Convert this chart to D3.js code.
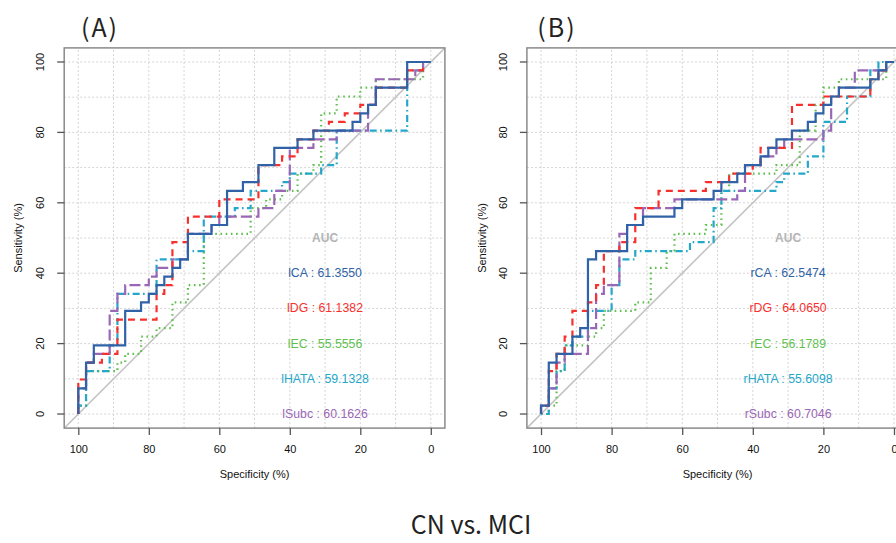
<!DOCTYPE html>
<html>
<head>
<meta charset="utf-8">
<script src="https://cdn.jsdelivr.net/npm/d3@7"></script>
<style>
  html, body { margin: 0; padding: 0; background: #fff; }
  svg { display: block; }
</style>
</head>
<body>
<svg id="chart" width="896" height="543"></svg>
<script>
// ---------------- data ----------------
const panelTitles = ["(A)", "(B)"];
const footerTitle = "CN vs. MCI";
const tickValues = [100, 80, 60, 40, 20, 0];
const gridValues = [0, 10, 20, 30, 40, 50, 60, 70, 80, 90, 100];

const seriesNamesA = ["lCA", "lDG", "lEC", "lHATA", "lSubc"];
const seriesNamesB = ["rCA", "rDG", "rEC", "rHATA", "rSubc"];
const aucA = ["61.3550", "61.1382", "55.5556", "59.1328", "60.1626"];
const aucB = ["62.5474", "64.0650", "56.1789", "55.6098", "60.7046"];

// ROC corner points: [specificity %, sensitivity %]
const A_CA = [[100,0],[100,7.3],[97.8,7.3],[97.8,14.6],[95.6,14.6],[95.6,19.5],[86.7,19.5],[86.7,29.3],[82.2,29.3],[82.2,31.7],[80,31.7],[80,34.1],[77.8,34.1],[77.8,36.6],[75.6,36.6],[75.6,39],[73.3,39],[73.3,41.5],[71.1,41.5],[71.1,43.9],[68.9,43.9],[68.9,51.2],[62.2,51.2],[62.2,53.7],[57.8,53.7],[57.8,63.4],[53.3,63.4],[53.3,65.9],[48.9,65.9],[48.9,70.7],[44.4,70.7],[44.4,75.6],[37.8,75.6],[37.8,78],[33.3,78],[33.3,80.5],[22.2,80.5],[22.2,83],[20,83],[20,85.4],[17.8,85.4],[17.8,87.8],[15.6,87.8],[15.6,92.7],[6.7,92.7],[6.7,100],[0,100]];
const A_DG = [[100,0],[100,9.8],[97.8,9.8],[97.8,14.6],[93.3,14.6],[93.3,17.1],[88.9,17.1],[88.9,26.8],[77.8,26.8],[77.8,34.1],[75.6,34.1],[75.6,36.6],[73.3,36.6],[73.3,48.8],[68.9,48.8],[68.9,56.1],[60,56.1],[60,61],[48.9,61],[48.9,70.7],[42.2,70.7],[42.2,73.2],[37.8,73.2],[37.8,78],[33.3,78],[33.3,80.5],[28.9,80.5],[28.9,83],[24.4,83],[24.4,85.4],[20,85.4],[20,87.8],[15.6,87.8],[15.6,92.7],[6.7,92.7],[6.7,97.6],[2.2,97.6],[2.2,100],[0,100]];
const A_EC = [[100,0],[100,2.4],[97.8,2.4],[97.8,12.2],[88.9,12.2],[88.9,14.6],[86.7,14.6],[86.7,17.1],[82.2,17.1],[82.2,22],[77.8,22],[77.8,24.4],[73.3,24.4],[73.3,31.7],[68.9,31.7],[68.9,36.6],[64.4,36.6],[64.4,51.2],[51.1,51.2],[51.1,58.5],[46.7,58.5],[46.7,61],[42.2,61],[42.2,63.4],[37.8,63.4],[37.8,68.3],[33.3,68.3],[33.3,70.7],[31.1,70.7],[31.1,85.4],[26.7,85.4],[26.7,90.2],[20,90.2],[20,92.7],[15.6,92.7],[15.6,95.1],[2.2,95.1],[2.2,100],[0,100]];
const A_HATA = [[100,0],[100,2.4],[97.8,2.4],[97.8,12.2],[91.1,12.2],[91.1,19.5],[88.9,19.5],[88.9,34.1],[77.8,34.1],[77.8,43.9],[68.9,43.9],[68.9,46.3],[64.4,46.3],[64.4,56.1],[55.6,56.1],[55.6,58.5],[51.1,58.5],[51.1,63.4],[42.2,63.4],[42.2,65.9],[40,65.9],[40,68.3],[31.1,68.3],[31.1,70.7],[26.7,70.7],[26.7,80.5],[6.7,80.5],[6.7,97.6],[2.2,97.6],[2.2,100],[0,100]];
const A_Subc = [[100,0],[100,7.3],[97.8,7.3],[97.8,14.6],[95.6,14.6],[95.6,17.1],[91.1,17.1],[91.1,29.3],[88.9,29.3],[88.9,34.1],[86.7,34.1],[86.7,36.6],[80,36.6],[80,39],[77.8,39],[77.8,41.5],[73.3,41.5],[73.3,43.9],[68.9,43.9],[68.9,51.2],[62.2,51.2],[62.2,53.7],[60,53.7],[60,56.1],[48.9,56.1],[48.9,58.5],[44.4,58.5],[44.4,63.4],[40,63.4],[40,75.6],[33.3,75.6],[33.3,78],[26.7,78],[26.7,80.5],[17.8,80.5],[17.8,87.8],[15.6,87.8],[15.6,95.1],[4.4,95.1],[4.4,97.6],[2.2,97.6],[2.2,100],[0,100]];

const B_CA = [[100,0],[100,2.4],[97.8,2.4],[97.8,14.6],[95.6,14.6],[95.6,17.1],[91.1,17.1],[91.1,22],[88.9,22],[88.9,24.4],[86.7,24.4],[86.7,43.9],[84.4,43.9],[84.4,46.3],[75.6,46.3],[75.6,53.7],[71.1,53.7],[71.1,56.1],[62.2,56.1],[62.2,58.5],[60,58.5],[60,61],[51.1,61],[51.1,63.4],[48.9,63.4],[48.9,65.9],[44.4,65.9],[44.4,68.3],[42.2,68.3],[42.2,70.7],[37.8,70.7],[37.8,73.2],[35.6,73.2],[35.6,75.6],[33.3,75.6],[33.3,78],[28.9,78],[28.9,80.5],[24.4,80.5],[24.4,83],[22.2,83],[22.2,85.4],[20,85.4],[20,87.8],[17.8,87.8],[17.8,90.2],[15.6,90.2],[15.6,92.7],[6.7,92.7],[6.7,95.1],[4.4,95.1],[4.4,97.6],[2.2,97.6],[2.2,100],[0,100]];
const B_DG = [[100,0],[100,2.4],[97.8,2.4],[97.8,12.2],[95.6,12.2],[95.6,17.1],[93.3,17.1],[93.3,22],[91.1,22],[91.1,29.3],[86.7,29.3],[86.7,31.7],[84.4,31.7],[84.4,36.6],[82.2,36.6],[82.2,46.3],[77.8,46.3],[77.8,48.8],[73.3,48.8],[73.3,58.5],[66.7,58.5],[66.7,63.4],[53.3,63.4],[53.3,65.9],[46.7,65.9],[46.7,68.3],[40,68.3],[40,70.7],[37.8,70.7],[37.8,75.6],[28.9,75.6],[28.9,87.8],[20,87.8],[20,90.2],[6.7,90.2],[6.7,95.1],[4.4,95.1],[4.4,97.6],[2.2,97.6],[2.2,100],[0,100]];
const B_EC = [[100,0],[97.8,0],[97.8,2.4],[95.6,2.4],[95.6,12.2],[93.3,12.2],[93.3,19.5],[86.7,19.5],[86.7,22],[84.4,22],[84.4,24.4],[82.2,24.4],[82.2,29.3],[73.3,29.3],[73.3,31.7],[68.9,31.7],[68.9,41.5],[64.4,41.5],[64.4,46.3],[62.2,46.3],[62.2,51.2],[53.3,51.2],[53.3,53.7],[48.9,53.7],[48.9,63.4],[46.7,63.4],[46.7,68.3],[33.3,68.3],[33.3,70.7],[26.7,70.7],[26.7,80.5],[22.2,80.5],[22.2,87.8],[20,87.8],[20,92.7],[15.6,92.7],[15.6,95.1],[2.2,95.1],[2.2,100],[0,100]];
const B_HATA = [[100,0],[97.8,0],[97.8,7.3],[95.6,7.3],[95.6,12.2],[93.3,12.2],[93.3,19.5],[91.1,19.5],[91.1,22],[86.7,22],[86.7,29.3],[80,29.3],[80,36.6],[77.8,36.6],[77.8,43.9],[73.3,43.9],[73.3,46.3],[57.8,46.3],[57.8,48.8],[51.1,48.8],[51.1,58.5],[48.9,58.5],[48.9,63.4],[33.3,63.4],[33.3,65.9],[31.1,65.9],[31.1,68.3],[24.4,68.3],[24.4,73.2],[20,73.2],[20,83],[13.3,83],[13.3,90.2],[6.7,90.2],[6.7,97.6],[4.4,97.6],[4.4,100],[0,100]];
const B_Subc = [[100,0],[100,2.4],[97.8,2.4],[97.8,7.3],[95.6,7.3],[95.6,14.6],[93.3,14.6],[93.3,17.1],[86.7,17.1],[86.7,24.4],[84.4,24.4],[84.4,34.1],[82.2,34.1],[82.2,36.6],[77.8,36.6],[77.8,51.2],[75.6,51.2],[75.6,53.7],[71.1,53.7],[71.1,58.5],[62.2,58.5],[62.2,61],[44.4,61],[44.4,63.4],[42.2,63.4],[42.2,70.7],[37.8,70.7],[37.8,73.2],[33.3,73.2],[33.3,75.6],[31.1,75.6],[31.1,78],[20,78],[20,80.5],[17.8,80.5],[17.8,90.2],[15.6,90.2],[15.6,92.7],[11.1,92.7],[11.1,97.6],[2.2,97.6],[2.2,100],[0,100]];

const curvesA = [A_CA, A_DG, A_EC, A_HATA, A_Subc];
const curvesB = [B_CA, B_DG, B_EC, B_HATA, B_Subc];

// ---------------- styles ----------------
const colors = ["#2f62a6", "#f7302d", "#5fbf4f", "#25a7c9", "#9a67b6"];
const dashes = [null, "7,5", "1.6,3.6", "1.6,3.4,7,3.4", "11,4"];

const svg = d3.select("#chart");
svg.append("rect").attr("width", 896).attr("height", 543).attr("fill", "#fff");

const panels = [
  { title: panelTitles[0], names: seriesNamesA, auc: aucA, curves: curvesA,
    xr: [64.2, 444.9], titleX: 100, ylabX: 18 },
  { title: panelTitles[1], names: seriesNamesB, auc: aucB, curves: curvesB,
    xr: [526.9, 908.1], titleX: 557, ylabX: 482 }
];
const yr = [428.1, 47.9];
const font = "'Liberation Sans', Arial, Helvetica, sans-serif";
const titleFont = "'Noto Sans CJK SC', 'Noto Sans', sans-serif";

panels.forEach((p, pi) => {
  const x = d3.scaleLinear().domain([104, -4]).range(p.xr);
  const y = d3.scaleLinear().domain([-4, 104]).range(yr);
  const g = svg.append("g");
  const clipId = "clip" + pi;
  svg.append("clipPath").attr("id", clipId).append("rect")
    .attr("x", p.xr[0]).attr("y", yr[1])
    .attr("width", p.xr[1] - p.xr[0]).attr("height", yr[0] - yr[1]);

  const inner = g.append("g").attr("clip-path", `url(#${clipId})`);
  // grid
  inner.selectAll(".gv").data(gridValues).enter().append("line")
    .attr("x1", d => x(d)).attr("x2", d => x(d))
    .attr("y1", yr[0]).attr("y2", yr[1])
    .attr("stroke", "#d4d4d4").attr("stroke-width", 1).attr("stroke-dasharray", "2,2");
  inner.selectAll(".gh").data(gridValues).enter().append("line")
    .attr("y1", d => y(d)).attr("y2", d => y(d))
    .attr("x1", p.xr[0]).attr("x2", p.xr[1])
    .attr("stroke", "#d4d4d4").attr("stroke-width", 1).attr("stroke-dasharray", "2,2");
  // diagonal
  inner.append("line")
    .attr("x1", x(104)).attr("y1", y(-4)).attr("x2", x(-4)).attr("y2", y(104))
    .attr("stroke", "#c4c4c4").attr("stroke-width", 1.6);

  // AUC text
  inner.append("text").attr("x", x(30)).attr("y", y(50))
    .attr("text-anchor", "middle").attr("dominant-baseline", "central")
    .attr("font-family", font).attr("font-size", 12).attr("font-weight", "bold")
    .attr("fill", "#b4b4b4").text("AUC");
  p.names.forEach((n, i) => {
    inner.append("text").attr("x", x(30)).attr("y", y(40 - i * 10))
      .attr("text-anchor", "middle").attr("dominant-baseline", "central")
      .attr("font-family", font).attr("font-size", 12.3)
      .attr("fill", colors[i]).text(n + " : " + p.auc[i]);
  });

  // curves
  const line = d3.line().x(d => x(d[0])).y(d => y(d[1]));
  const order = [2, 3, 4, 1, 0];
  order.forEach(i => {
    inner.append("path").datum(p.curves[i])
      .attr("d", line).attr("fill", "none")
      .attr("stroke", colors[i]).attr("stroke-width", 2.2)
      .attr("stroke-dasharray", dashes[i]);
  });

  // box
  g.append("rect").attr("x", p.xr[0]).attr("y", yr[1])
    .attr("width", p.xr[1] - p.xr[0]).attr("height", yr[0] - yr[1])
    .attr("fill", "none").attr("stroke", "#8a8a8a").attr("stroke-width", 1.5);

  // axes
  const xAxis = d3.axisBottom(x).tickValues(tickValues).tickSize(7).tickPadding(10);
  const xg = g.append("g").attr("transform", `translate(0,${yr[0]})`).call(xAxis);
  xg.select(".domain").remove();
  xg.selectAll("line").attr("stroke", "#555").attr("stroke-width", 1.3);
  xg.selectAll("text").attr("font-family", font).attr("font-size", 11).attr("fill", "#111");

  const yAxis = d3.axisLeft(y).tickValues(tickValues).tickSize(7).tickPadding(5);
  const yg = g.append("g").attr("transform", `translate(${p.xr[0]},0)`).call(yAxis);
  yg.select(".domain").remove();
  yg.selectAll("line").attr("stroke", "#555").attr("stroke-width", 1.3);
  yg.selectAll("text")
    .attr("font-family", font).attr("font-size", 11).attr("fill", "#111")
    .attr("text-anchor", "middle").attr("dy", null)
    .attr("x", null)
    .attr("transform", d => `translate(${-24},${y(d)}) rotate(-90)`)
    .attr("y", 0)
    .attr("dominant-baseline", "central");
  yg.selectAll(".tick").attr("transform", null);
  yg.selectAll(".tick line").attr("transform", d => `translate(0,${y(d)})`);

  // axis titles
  g.append("text").attr("x", (p.xr[0] + p.xr[1]) / 2)
    .attr("y", 478).attr("text-anchor", "middle")
    .attr("font-family", font).attr("font-size", 11).attr("fill", "#111")
    .text("Specificity (%)");
  g.append("text")
    .attr("transform", `translate(${p.ylabX},${(yr[0] + yr[1]) / 2}) rotate(-90)`)
    .attr("text-anchor", "middle").attr("dominant-baseline", "central")
    .attr("font-family", font).attr("font-size", 11).attr("fill", "#111")
    .text("Sensitivity (%)");

  // panel title
  svg.append("text").attr("x", p.titleX).attr("y", 37)
    .attr("text-anchor", "middle")
    .attr("font-family", titleFont).attr("letter-spacing", 2)
    .attr("font-size", 25).attr("fill", "#222").text(p.title);
});

svg.append("text").attr("x", 471).attr("y", 534)
  .attr("text-anchor", "middle")
  .attr("font-family", titleFont)
  .attr("font-size", 25).attr("fill", "#222").text(footerTitle);
</script>
</body>
</html>
